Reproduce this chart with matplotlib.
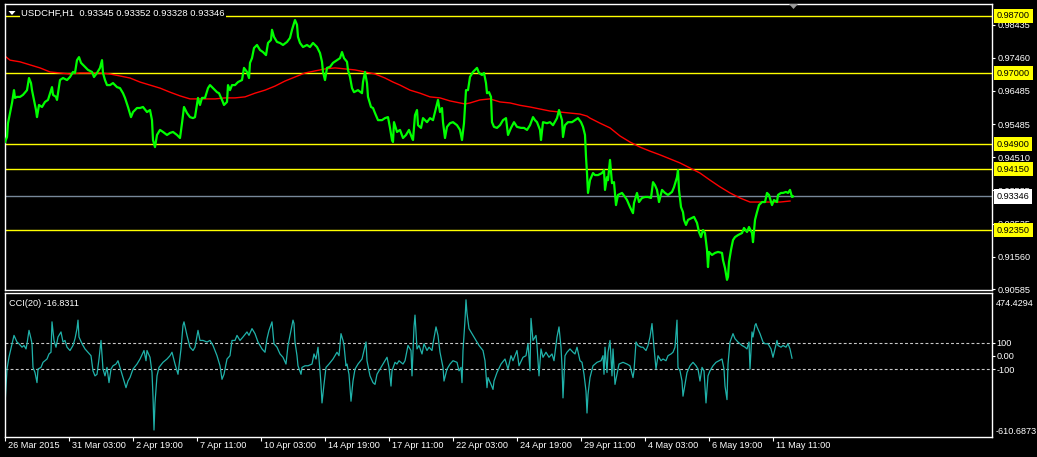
import matplotlib
matplotlib.use("Agg")
import matplotlib.pyplot as plt
from matplotlib import transforms
from matplotlib.patches import Polygon

plt.rcParams['font.family'] = ['Liberation Sans', 'DejaVu Sans']

# ---------------- data ----------------
symbol = "USDCHF,H1"
ohlc_text = ["0.93345", "0.93352", "0.93328", "0.93346"]

price_bar = [
    0, 2, 3, 5, 7, 9, 10, 12, 15, 18,
    22, 24, 26, 27, 29, 31, 32, 34, 37, 40,
    43, 47, 48, 51, 52, 55, 58, 62, 65, 68,
    70, 72, 74, 76, 78, 81, 83, 87, 89, 92,
    95, 97, 98, 100, 102, 105, 108, 112, 115, 118,
    120, 123, 126, 128, 132, 135, 138, 142, 145, 147,
    148, 150, 152, 155, 158, 162, 165, 168, 172, 175,
    177, 179, 182, 185, 188, 190, 193, 195, 197, 200,
    203, 205, 208, 212, 214, 217, 219, 222, 223, 225,
    227, 230, 233, 237, 239, 242, 244, 245, 247, 249,
    252, 255, 258, 261, 263, 266, 267, 269, 272, 275,
    278, 282, 285, 287, 290, 292, 293, 295, 298, 302,
    305, 308, 312, 315, 317, 318, 320, 322, 325, 328,
    332, 335, 337, 339, 342, 343, 345, 347, 349, 353,
    357, 358, 360, 362, 363, 366, 368, 370, 373, 377,
    380, 383, 385, 387, 388, 389, 392, 395, 398, 401,
    404, 407, 408, 410, 412, 413, 416, 418, 422, 425,
    428, 431, 433, 435, 437, 438, 440, 442, 445, 448,
    452, 455, 457, 459, 461, 463, 465, 468, 470, 472,
    474, 477, 479, 481, 482, 484, 486, 487, 489, 492,
    495, 498, 501, 503, 506, 509, 512, 516, 519, 522,
    525, 528, 530, 532, 535, 536, 538, 542, 545, 548,
    552, 554, 557, 558, 560, 563, 567, 570, 573, 576,
    578, 580, 581, 582, 583, 585, 588, 590, 593, 597,
    599, 600, 602, 603, 605, 607, 609, 611, 613, 617,
    620, 622, 625, 628, 629, 632, 634, 637, 640, 643,
    646, 648, 650, 652, 654, 657, 660, 663, 667, 669,
    672, 673, 674, 676, 678, 679, 681, 683, 687, 689,
    692, 694, 696, 698, 700, 702, 703, 704, 707, 710,
    713, 717, 718, 720, 722, 723, 724, 726, 728, 730,
    733, 737, 739, 742, 744, 747, 748, 750, 752, 754,
    757, 760, 762, 764, 767, 769, 772, 773, 776, 778,
    781, 783, 785, 787, 788,
]
price_close = [
    0.9496, 0.9511, 0.9552, 0.9582, 0.9612, 0.9650, 0.9627, 0.9630, 0.9630, 0.9636,
    0.9650, 0.9686, 0.9671, 0.9650, 0.9621, 0.9591, 0.9570, 0.9606, 0.9600, 0.9615,
    0.9621, 0.9659, 0.9636, 0.9630, 0.9621, 0.9680, 0.9686, 0.9680, 0.9689, 0.9704,
    0.9701, 0.9739, 0.9748, 0.9731, 0.9725, 0.9716, 0.9710, 0.9704, 0.9689, 0.9701,
    0.9716, 0.9739, 0.9701, 0.9680, 0.9665, 0.9665, 0.9671, 0.9659, 0.9656, 0.9641,
    0.9627, 0.9600, 0.9570, 0.9585, 0.9597, 0.9597, 0.9600, 0.9585, 0.9591, 0.9561,
    0.9502, 0.9481, 0.9517, 0.9532, 0.9526, 0.9517, 0.9523, 0.9526, 0.9517, 0.9508,
    0.9552, 0.9600, 0.9582, 0.9570, 0.9567, 0.9570, 0.9627, 0.9606, 0.9627, 0.9627,
    0.9656, 0.9665, 0.9656, 0.9644, 0.9641, 0.9621, 0.9606, 0.9615, 0.9665, 0.9650,
    0.9665, 0.9665, 0.9674, 0.9680, 0.9716, 0.9704, 0.9686, 0.9731, 0.9745, 0.9775,
    0.9784, 0.9769, 0.9763, 0.9754, 0.9790, 0.9799, 0.9829, 0.9808, 0.9793, 0.9790,
    0.9784, 0.9793, 0.9805, 0.9829, 0.9858, 0.9844, 0.9808, 0.9790, 0.9778, 0.9784,
    0.9778, 0.9790, 0.9778, 0.9760, 0.9734, 0.9704, 0.9680, 0.9716, 0.9719, 0.9731,
    0.9739, 0.9745, 0.9763, 0.9745, 0.9734, 0.9710, 0.9689, 0.9656, 0.9644, 0.9650,
    0.9641, 0.9674, 0.9704, 0.9671, 0.9630, 0.9600, 0.9597, 0.9582, 0.9561, 0.9561,
    0.9567, 0.9570, 0.9538, 0.9502, 0.9496, 0.9555, 0.9526, 0.9532, 0.9508, 0.9517,
    0.9532, 0.9508, 0.9502, 0.9576, 0.9591, 0.9546, 0.9538, 0.9567, 0.9555, 0.9567,
    0.9561, 0.9597, 0.9621, 0.9585, 0.9597, 0.9555, 0.9508, 0.9541, 0.9552, 0.9555,
    0.9546, 0.9532, 0.9502, 0.9552, 0.9650, 0.9650, 0.9689, 0.9704, 0.9710, 0.9716,
    0.9701, 0.9695, 0.9701, 0.9671, 0.9641, 0.9644, 0.9630, 0.9555, 0.9541, 0.9538,
    0.9546, 0.9561, 0.9567, 0.9517, 0.9538, 0.9555, 0.9541, 0.9538, 0.9538, 0.9532,
    0.9546, 0.9570, 0.9561, 0.9555, 0.9532, 0.9502, 0.9555, 0.9552, 0.9555, 0.9546,
    0.9567, 0.9591, 0.9561, 0.9511, 0.9546, 0.9555, 0.9555, 0.9561, 0.9567, 0.9555,
    0.9541, 0.9517, 0.9452, 0.9404, 0.9345, 0.9383, 0.9404, 0.9398, 0.9398, 0.9404,
    0.9413, 0.9354, 0.9392, 0.9383, 0.9443, 0.9374, 0.9377, 0.9309, 0.9339, 0.9345,
    0.9333, 0.9324, 0.9303, 0.9285, 0.9315, 0.9345, 0.9318, 0.9330, 0.9333, 0.9333,
    0.9330, 0.9377, 0.9368, 0.9354, 0.9318, 0.9354, 0.9345, 0.9339, 0.9348, 0.9362,
    0.9392, 0.9413, 0.9354, 0.9303, 0.9288, 0.9265, 0.9250, 0.9265, 0.9271, 0.9274,
    0.9256, 0.9229, 0.9214, 0.9235, 0.9226, 0.9176, 0.9125, 0.9170, 0.9161, 0.9167,
    0.9170, 0.9167, 0.9146, 0.9122, 0.9087, 0.9096, 0.9140, 0.9176, 0.9205, 0.9214,
    0.9220, 0.9226, 0.9241, 0.9229, 0.9244, 0.9226, 0.9199, 0.9265, 0.9288, 0.9309,
    0.9318, 0.9318, 0.9345, 0.9339, 0.9309, 0.9324, 0.9318, 0.9339, 0.9345, 0.9345,
    0.9348, 0.9345, 0.9354, 0.9333, 0.93346,
]

ma_bar = [
    0, 5, 15, 25, 35, 45, 55, 65, 75, 85,
    95, 105, 115, 125, 135, 145, 155, 165, 175, 185,
    200, 210, 220, 230, 240, 250, 260, 270, 280, 290,
    300, 310, 320, 330, 340, 350, 360, 370, 380, 388,
    395, 405, 415, 425, 435, 445, 455, 460, 465, 475,
    485, 495, 505, 515, 525, 535, 545, 555, 565, 575,
    582, 585, 595, 605, 615, 625, 635, 645, 655, 665,
    675, 685, 695, 705, 715, 725, 735, 745, 755, 765,
    775, 785,
]
ma_value = [
    0.9751, 0.9739, 0.9734, 0.9725, 0.9716, 0.9704, 0.9701, 0.9698, 0.9701, 0.9701,
    0.9701, 0.9698, 0.9692, 0.9686, 0.9674, 0.9665, 0.9656, 0.9644, 0.9633, 0.9624,
    0.9624, 0.9624, 0.9627, 0.9627, 0.9630, 0.9641, 0.9650, 0.9662, 0.9677, 0.9689,
    0.9701, 0.9707, 0.9713, 0.9716, 0.9713, 0.9710, 0.9704, 0.9698, 0.9686, 0.9674,
    0.9665, 0.9650, 0.9641, 0.9630, 0.9627, 0.9618, 0.9612, 0.9609, 0.9612, 0.9621,
    0.9624, 0.9615, 0.9612, 0.9605, 0.9600, 0.9594, 0.9588, 0.9585, 0.9582, 0.9579,
    0.9573, 0.9567, 0.9552, 0.9538, 0.9514, 0.9496, 0.9481, 0.9469, 0.9458, 0.9446,
    0.9434, 0.9419, 0.9404, 0.9383, 0.9363, 0.9345, 0.9330, 0.9318, 0.9318, 0.9318,
    0.9318, 0.9321,
]

cci_bar = [
    0, 1, 2, 4, 7, 9, 12, 14, 17, 19,
    21, 22, 24, 26, 27, 28, 30, 32, 33, 36,
    38, 42, 44, 46, 47, 49, 51, 53, 56, 58,
    60, 62, 65, 68, 70, 72, 73, 74, 77, 80,
    83, 86, 88, 90, 92, 94, 96, 98, 100, 102,
    104, 106, 108, 111, 113, 116, 118, 121, 123, 125,
    128, 132, 135, 139, 141, 142, 145, 147, 148, 149,
    150, 152, 154, 158, 162, 165, 167, 170, 173, 176,
    178, 179, 182, 185, 188, 190, 193, 195, 198, 202,
    205, 208, 212, 215, 217, 219, 222, 225, 227, 230,
    232, 235, 238, 242, 244, 247, 250, 253, 257, 260,
    262, 264, 267, 269, 272, 275, 278, 281, 283, 285,
    288, 289, 290, 292, 293, 296, 297, 300, 303, 307,
    309, 311, 313, 315, 316, 317, 319, 321, 324, 328,
    332, 334, 336, 338, 339, 341, 342, 344, 346, 348,
    350, 353, 357, 359, 361, 362, 365, 368, 370, 372,
    376, 380, 382, 384, 386, 387, 390, 392, 394, 398,
    400, 403, 406, 407, 409, 410, 412, 414, 417, 419,
    422, 424, 427, 428, 431, 433, 435, 438, 439, 442,
    445, 448, 452, 454, 456, 457, 458, 460, 461, 462,
    464, 468, 471, 474, 478, 480, 482, 483, 486, 488,
    489, 492, 496, 500, 503, 506, 508, 512, 514, 518,
    521, 523, 525, 526, 528, 531, 532, 534, 536, 538,
    541, 544, 547, 549, 552, 554, 556, 557, 558, 560,
    562, 565, 568, 570, 572, 575, 577, 579, 581, 582,
    583, 585, 588, 592, 596, 598, 599, 600, 602, 603,
    605, 607, 608, 610, 612, 614, 618, 622, 625, 628,
    629, 631, 633, 636, 638, 641, 643, 645, 647, 649,
    651, 653, 656, 658, 661, 663, 666, 668, 670, 672,
    673, 675, 677, 678, 680, 682, 685, 688, 691, 693,
    695, 697, 699, 701, 703, 705, 708, 711, 714, 717,
    719, 720, 722, 723, 725, 728, 730, 733, 737, 740,
    742, 744, 745, 747, 748, 750, 751, 752, 755, 758,
    760, 763, 766, 768, 770, 772, 773, 776, 778, 781,
    783, 785, 787,
]
cci_value = [
    -367, -227, -99, -8, 92, 155, 105, 92, 66, 79,
    53, 92, 193, 130, 92, -86, -125, -201, -99, -86,
    -48, -23, 15, 28, 257, 117, 66, 143, 181, 105,
    117, 66, 41, 79, 130, 206, 270, 143, 92, 53,
    28, 2, -112, -150, -138, -23, 117, -99, -150, -86,
    -201, -99, -74, -61, -36, -112, -163, -239, -189, -163,
    -99, -61, -23, 41, -36, 41, -10, -125, -303, -558,
    -354, -150, -86, -48, -23, 2, 28, -61, -138, 53,
    231, 257, 155, 66, 41, 66, 193, 117, 117, 105,
    117, 79, 2, -74, -176, -138, -23, 2, 117, 117,
    155, 117, 143, 181, 155, 206, 168, 105, 53, 28,
    130, 193, 257, 92, 66, 15, -10, -61, 79, 155,
    270, 244, 105, 2, -74, -138, -86, -74, -74, -61,
    15, -23, 66, -112, -214, -354, -214, -86, -61, -23,
    28, 2, 168, 117, 79, -74, -61, -138, -341, -189,
    -99, -61, -23, 41, 105, -36, -150, -201, -214, -138,
    -86, -36, -10, -86, -227, -112, -48, -61, -36, -61,
    -36, 79, 41, -150, 219, 308, 53, 79, 15, 92,
    41, 66, 41, 92, 219, 155, 28, -86, -189, -99,
    -61, -36, -48, -112, -86, -201, 41, 270, 423, 321,
    206, 155, 117, 79, 41, -36, -239, -163, -214, -252,
    -189, -125, -61, -23, -99, 2, -36, 41, -74, -10,
    2, 92, -112, 283, 117, 155, 79, -150, 53, -10,
    28, -10, 15, -36, 143, 219, 66, -74, -316, 2,
    28, 53, 28, 15, 66, -36, -48, -138, -265, -430,
    -290, -163, -74, -48, -36, 2, -138, 66, -125, 28,
    117, -150, 53, -214, -138, -61, -48, -61, -74, -163,
    -112, 105, 79, 66, 66, 41, 79, 143, 244, 66,
    -99, 2, -36, -23, -36, 2, 15, 28, 66, 270,
    -86, -112, -189, -303, -214, -125, -74, -48, -74, -99,
    -189, -86, -112, -354, -150, -112, -74, -48, -36, -23,
    -99, -227, -329, -61, 105, 168, 130, 105, 79, 66,
    53, 105, -99, 181, 143, 231, 244, 219, 168, 105,
    92, 92, 53, -10, 53, 117, 79, 66, 79, 66,
    92, 53, -17,
]

level_lines = [0.98700, 0.97000, 0.94900, 0.94150, 0.92350]
bid_price = 0.93346
price_ticks = [0.98435, 0.97460, 0.96485, 0.95485, 0.94510,
               0.93535, 0.92535, 0.91560, 0.90585]
price_range = (0.90570, 0.99056)

cci_name = "CCI(20)"
cci_last = -16.8311
cci_max, cci_min = 474.4294, -610.6873
cci_levels = [100, -100]
cci_ticks = [100, 0, -100]
cci_tick_labels = ["100", "0.00", "-100"]

time_tick_bars = [0, 64, 128, 192, 256, 320, 384, 448, 512, 576, 640, 704, 768]
time_tick_labels = ["26 Mar 2015", "31 Mar 03:00", "2 Apr 19:00", "7 Apr 11:00",
                    "10 Apr 03:00", "14 Apr 19:00", "17 Apr 11:00", "22 Apr 03:00",
                    "24 Apr 19:00", "29 Apr 11:00", "4 May 03:00", "6 May 19:00",
                    "11 May 11:00"]
visible_bars = 987

assert len(price_bar) == len(price_close)
assert len(ma_bar) == len(ma_value)
assert len(cci_bar) == len(cci_value)

# ---------------- layout ----------------
W, H, DPI = 1037, 457, 100
fig = plt.figure(figsize=(W / DPI, H / DPI), dpi=DPI, facecolor='black')


def fx(px):
    return px / W


def fy(py):
    return 1 - py / H


L, R = 5, 992
ax1 = fig.add_axes([fx(L), fy(290), (R - L) / W, 286 / H], facecolor='black')
ax2 = fig.add_axes([fx(L), fy(437), (R - L) / W, 144 / H], facecolor='black')

FS = 6.6
for ax in (ax1, ax2):
    for s in ax.spines.values():
        s.set_color('white')
        s.set_linewidth(1.0)
    ax.set_xlim(0, visible_bars)

# ---- price panel ----
ax1.set_ylim(*price_range)
for lv in level_lines:
    ax1.axhline(lv, color='#FFFF00', lw=1.0, zorder=1)
ax1.axhline(bid_price, color='#778899', lw=1.0, zorder=1)
ax1.plot(ma_bar, ma_value, color='#FF0000', lw=1.0, zorder=2)
ax1.plot(price_bar, price_close, color='#00FF00', lw=1.6, zorder=3)

ax1.set_xticks([])
ax1.yaxis.tick_right()
ax1.set_yticks(price_ticks)
ax1.set_yticklabels([f"{v:.5f}" for v in price_ticks])
ax1.tick_params(axis='y', colors='white', labelcolor='white', length=2.5,
                width=0.8, pad=1.5, labelsize=FS)

tr_price = transforms.blended_transform_factory(fig.transFigure, ax1.transData)
for lv in level_lines:
    fig.text(fx(997), lv, f"{lv:.5f}", transform=tr_price, fontsize=FS,
             color='black', va='center', ha='left', zorder=10,
             bbox=dict(boxstyle='square,pad=0.28', fc='#FFFF00', ec='none'))
fig.text(fx(997), bid_price, f"{bid_price:.5f}", transform=tr_price, fontsize=FS,
         color='black', va='center', ha='left', zorder=10,
         bbox=dict(boxstyle='square,pad=0.28', fc='white', ec='none'))

# title
fig.text(fx(21), fy(13), f"{symbol}  " + " ".join(ohlc_text), color='white',
         fontsize=6.8, va='center', ha='left', zorder=10,
         bbox=dict(boxstyle='square,pad=0.15', fc='black', ec='none'))
tri = Polygon([(fx(8.5), fy(11)), (fx(15.5), fy(11)), (fx(12), fy(15))],
              closed=True, transform=fig.transFigure, fc='white', ec='none', zorder=11)
fig.patches.append(tri)
shift = Polygon([(fx(789), fy(4)), (fx(798), fy(4)), (fx(793.5), fy(9))],
                closed=True, transform=fig.transFigure, fc='#9A9A9A', ec='none', zorder=11)
fig.patches.append(shift)

# ---- CCI panel ----
ax2.set_ylim(cci_min, cci_max)
for lv in cci_levels:
    ax2.axhline(lv, color='#C8C8C8', lw=0.8, ls=(0, (2.6, 2.0)), zorder=1)
ax2.plot(cci_bar, cci_value, color='#20B2AA', lw=0.9, zorder=2)

ax2.yaxis.tick_right()
ax2.set_yticks(cci_ticks)
ax2.set_yticklabels(cci_tick_labels)
ax2.tick_params(axis='y', colors='white', labelcolor='white', length=2.0,
                width=0.8, pad=1.0, labelsize=FS)
ax2.set_xticks(time_tick_bars)
ax2.set_xticklabels([])
ax2.tick_params(axis='x', colors='white', length=3, width=0.8, direction='out')

fig.text(fx(9), fy(304), f"{cci_name} {cci_last:.4f}", color='white',
         fontsize=FS, va='center', ha='left')
fig.text(fx(996), fy(303), f"{cci_max:.4f}", color='white', fontsize=FS,
         va='center', ha='left')
fig.text(fx(996), fy(431), f"{cci_min:.4f}", color='white', fontsize=FS,
         va='center', ha='left')

tr_time = transforms.blended_transform_factory(ax2.transData, fig.transFigure)
for b, lab in zip(time_tick_bars, time_tick_labels):
    ax2.text(b + 3, fy(446), lab, transform=tr_time, color='white', fontsize=FS,
             va='center', ha='left', clip_on=False)

fig.savefig('out.png', dpi=DPI, facecolor='black')
